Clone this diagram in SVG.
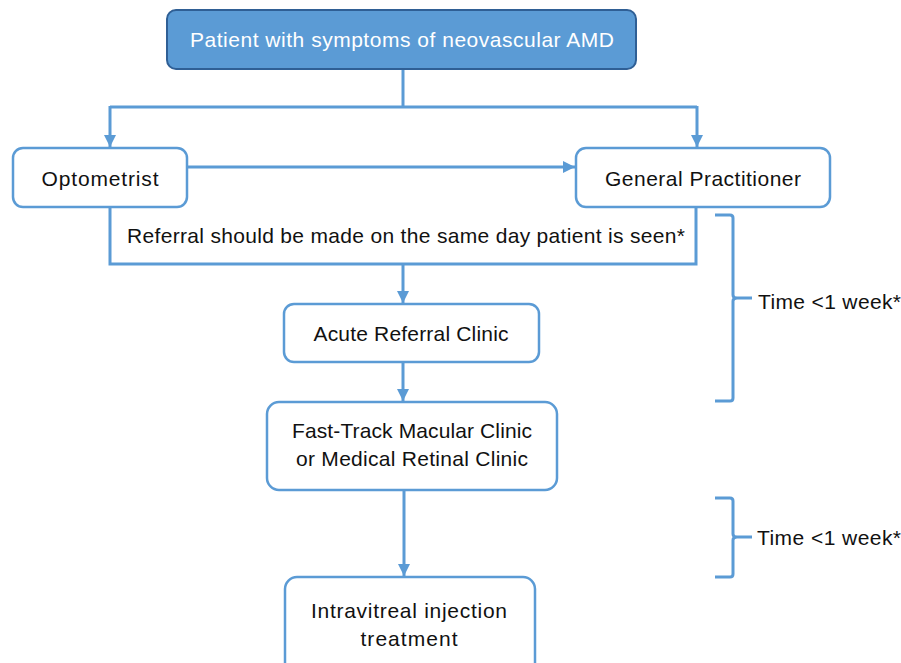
<svg xmlns="http://www.w3.org/2000/svg" width="901" height="663" viewBox="0 0 901 663">
<defs>
<style>
.box{fill:#fff;stroke:#5b9bd5;stroke-width:2.5}
.top{fill:#5b9bd5;stroke:#2f5f95;stroke-width:2}
.ln{fill:none;stroke:#5b9bd5;stroke-width:3}
.t{font-family:"Liberation Sans",Arial,sans-serif;font-size:21px;fill:#111}
.tw{font-family:"Liberation Sans",Arial,sans-serif;font-size:21px;fill:#fff}
</style>
<marker id="ah" viewBox="0 0 10 10" refX="10" refY="5" markerWidth="4" markerHeight="4" orient="auto" markerUnits="strokeWidth">
<path d="M0,0 L10,5 L0,10 z" fill="#5b9bd5"/>
</marker>
</defs>
<rect width="901" height="663" fill="#fff"/>
<g id="connectors">
<path class="ln" d="M403,69 V107"/>
<path class="ln" d="M110,107 H697"/>
<path class="ln" d="M110,106 V147" marker-end="url(#ah)"/>
<path class="ln" d="M697,106 V147" marker-end="url(#ah)"/>
<path class="ln" d="M187,167 H575" marker-end="url(#ah)"/>
<path class="ln" d="M110,207 V264 H696 V207"/>
<path class="ln" d="M403,264 V303" marker-end="url(#ah)"/>
<path class="ln" d="M403,362 V401" marker-end="url(#ah)"/>
<path class="ln" d="M404,490 V576" marker-end="url(#ah)"/>
<path class="ln" d="M715,215 H730 Q733,215 733,218 V295 Q733,298 737,298 H752 M737,298 Q733,298 733,301 V398 Q733,401 730,401 H715"/>
<path class="ln" d="M715,498 H730 Q733,498 733,501 V534 Q733,537 737,537 H752 M737,537 Q733,537 733,540 V574 Q733,577 730,577 H715"/>
</g>
<g id="n-patient">
<rect class="top" x="167" y="10" width="469" height="59" rx="9"/>
<text class="tw" x="402" y="47" text-anchor="middle" textLength="424">Patient with symptoms of neovascular AMD</text>
</g>
<g id="n-optometrist">
<rect class="box" x="13" y="148" width="174" height="59" rx="10"/>
<text class="t" x="100" y="186" text-anchor="middle" textLength="117">Optometrist</text>
</g>
<g id="n-gp">
<rect class="box" x="576" y="148" width="254" height="59" rx="10"/>
<text class="t" x="703" y="186" text-anchor="middle" textLength="196">General Practitioner</text>
</g>
<g id="n-referral-note">
<text class="t" x="127" y="243" textLength="558">Referral should be made on the same day patient is seen*</text>
</g>
<g id="n-acute">
<rect class="box" x="284" y="304" width="255" height="58" rx="10"/>
<text class="t" x="411" y="341" text-anchor="middle" textLength="195">Acute Referral Clinic</text>
</g>
<g id="n-fasttrack">
<rect class="box" x="267" y="402" width="290" height="88" rx="12"/>
<text class="t" x="412" y="438" text-anchor="middle" textLength="240">Fast-Track Macular Clinic</text>
<text class="t" x="412" y="466" text-anchor="middle" textLength="232">or Medical Retinal Clinic</text>
</g>
<g id="n-intravitreal">
<rect class="box" x="285" y="577" width="250" height="100" rx="12"/>
<text class="t" x="409" y="618" text-anchor="middle" textLength="196">Intravitreal injection</text>
<text class="t" x="409" y="646" text-anchor="middle" textLength="97">treatment</text>
</g>
<g id="n-time1">
<text class="t" x="758" y="309" textLength="143">Time &lt;1 week*</text>
</g>
<g id="n-time2">
<text class="t" x="757" y="545" textLength="144">Time &lt;1 week*</text>
</g>
</svg>
